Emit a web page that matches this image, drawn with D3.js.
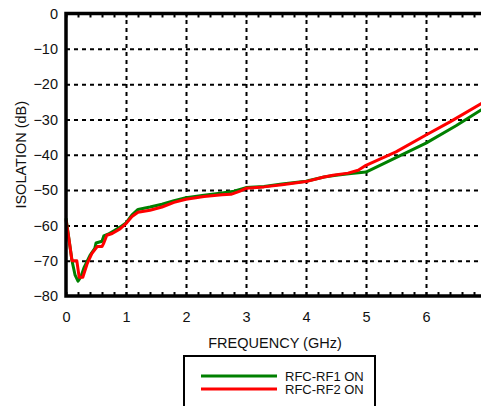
<!DOCTYPE html>
<html>
<head>
<meta charset="utf-8">
<script src="https://cdn.jsdelivr.net/npm/d3@7"></script>
<style>
  body { margin: 0; background: #fff; }
  svg { display: block; font-family: "Liberation Sans", Arial, sans-serif; }
  .axis .domain { display: none; }
  .axis text { fill: #111; font-size: 14.5px; }
  .grid line { stroke: #000; stroke-width: 2; stroke-dasharray: 4,4; }
  .grid .domain, .grid text { display: none; }
</style>
</head>
<body>
<div id="chart"></div>
<script>
// frequency (GHz) / isolation (dB)
const rf1Freq = [0, 0.05, 0.1, 0.15, 0.2, 0.25, 0.3, 0.4, 0.48, 0.5, 0.6, 0.63, 0.7, 0.8, 0.9, 1.0, 1.1, 1.2, 1.4, 1.6, 1.8, 2.0, 2.3, 2.6, 2.8, 3.0, 3.3, 3.6, 4.0, 4.3, 4.5, 4.75, 5.0, 5.5, 6.0, 6.5, 7.0];
const rf1Iso  = [-58, -64, -70, -74, -75.8, -74.5, -72, -68.5, -66.5, -65, -64.5, -63, -62.5, -61.5, -60.5, -59.3, -57, -55.5, -54.8, -54, -53, -52.2, -51.5, -50.8, -50.3, -49.3, -49, -48.3, -47.5, -46.3, -45.8, -45.3, -44.9, -40.8, -36.7, -31.8, -26.4];

const rf2Freq = [0, 0.05, 0.1, 0.18, 0.22, 0.28, 0.35, 0.43, 0.52, 0.6, 0.63, 0.68, 0.77, 0.9, 1.0, 1.1, 1.2, 1.4, 1.6, 1.8, 2.0, 2.3, 2.6, 2.75, 2.9, 3.0, 3.3, 3.6, 4.0, 4.3, 4.45, 4.7, 4.87, 5.0, 5.5, 6.0, 6.4, 7.0];
const rf2Iso  = [-58.5, -64, -70, -70, -74.7, -74.7, -71, -68, -66, -66, -65, -62.8, -62.3, -61, -59.5, -57.5, -56.3, -55.7, -54.8, -53.5, -52.6, -51.8, -51.3, -51.2, -50.3, -49.5, -49.1, -48.5, -47.6, -46.3, -45.8, -45.2, -44.4, -43, -39.2, -34.4, -30.7, -24.7];

const xTicks = [0, 1, 2, 3, 4, 5, 6, 7];
const yTicks = [0, -10, -20, -30, -40, -50, -60, -70, -80];
const minorTicks = d3.range(0, 7.01, 0.2);

const seriesNames = ["RFC-RF1 ON", "RFC-RF2 ON"];
const seriesColors = ["#008000", "#ff0000"];

const W = 481, H = 406;
const svg = d3.select("#chart").append("svg")
  .attr("width", W)
  .attr("height", H);

const x = d3.scaleLinear().domain([0, 7]).range([66, 486]);
const y = d3.scaleLinear().domain([-80, 0]).range([296, 13.5]);

// dashed grid
svg.append("g").attr("class", "grid")
  .attr("transform", `translate(0,${y(-80)})`)
  .call(d3.axisBottom(x).tickValues([1, 2, 3, 4, 5, 6]).tickSize(-(y(-80) - y(0))));
svg.append("g").attr("class", "grid")
  .attr("transform", `translate(${x(0)},0)`)
  .call(d3.axisLeft(y).tickValues([-10, -20, -30, -40, -50, -60, -70]).tickSize(-(x(7) - x(0))));

// minor ticks on top and bottom frames
svg.append("g").attr("class", "axis")
  .attr("transform", `translate(0,${y(-80)})`)
  .call(d3.axisTop(x).tickValues(minorTicks).tickSize(4).tickFormat(""))
  .selectAll("line").attr("stroke", "#000").attr("stroke-width", 2);
svg.append("g").attr("class", "axis")
  .attr("transform", `translate(0,${y(0)})`)
  .call(d3.axisBottom(x).tickValues(minorTicks).tickSize(4).tickFormat(""))
  .selectAll("line").attr("stroke", "#000").attr("stroke-width", 2);

// tick labels
const xAxis = svg.append("g").attr("class", "axis")
  .attr("transform", `translate(0,${y(-80)})`)
  .call(d3.axisBottom(x).tickValues(xTicks).tickSize(0).tickPadding(16).tickFormat(d3.format("d")));
xAxis.selectAll("line").remove();

const yAxis = svg.append("g").attr("class", "axis")
  .attr("transform", `translate(${x(0)},0)`)
  .call(d3.axisLeft(y).tickValues(yTicks).tickSize(0).tickPadding(8).tickFormat(d3.format("d")));
yAxis.selectAll("line").remove();

// curves
const line = d3.line().x(d => x(d[0])).y(d => y(d[1]));
const series = [d3.zip(rf1Freq, rf1Iso), d3.zip(rf2Freq, rf2Iso)];
svg.selectAll("path.curve").data(series).enter().append("path")
  .attr("class", "curve")
  .attr("d", line)
  .attr("fill", "none")
  .attr("stroke", (d, i) => seriesColors[i])
  .attr("stroke-width", 3)
  .attr("stroke-linejoin", "round");

// frame (left, top, bottom)
svg.append("path")
  .attr("d", `M${x(7)},${y(0)}H${x(0)}V${y(-80)}H${x(7)}`)
  .attr("fill", "none")
  .attr("stroke", "#000")
  .attr("stroke-width", 3.5);

// axis titles
svg.append("text")
  .attr("x", 275).attr("y", 348)
  .attr("text-anchor", "middle")
  .attr("font-size", 14.5)
  .attr("fill", "#111")
  .text("FREQUENCY (GHz)");

svg.append("text")
  .attr("transform", `translate(26,${(y(0) + y(-80)) / 2}) rotate(-90)`)
  .attr("text-anchor", "middle")
  .attr("font-size", 14.5)
  .attr("fill", "#111")
  .text("ISOLATION (dB)");

// legend
const legend = svg.append("g");
legend.append("rect")
  .attr("x", 184).attr("y", 356)
  .attr("width", 191).attr("height", 80)
  .attr("fill", "#fff")
  .attr("stroke", "#000")
  .attr("stroke-width", 2);
seriesNames.forEach((name, i) => {
  const ly = 376 + i * 13;
  legend.append("line")
    .attr("x1", 201).attr("x2", 277)
    .attr("y1", ly).attr("y2", ly)
    .attr("stroke", seriesColors[i])
    .attr("stroke-width", 3);
  legend.append("text")
    .attr("x", 285).attr("y", ly)
    .attr("dy", "0.35em")
    .attr("font-size", 13)
    .attr("fill", "#111")
    .text(name);
});
</script>
</body>
</html>
